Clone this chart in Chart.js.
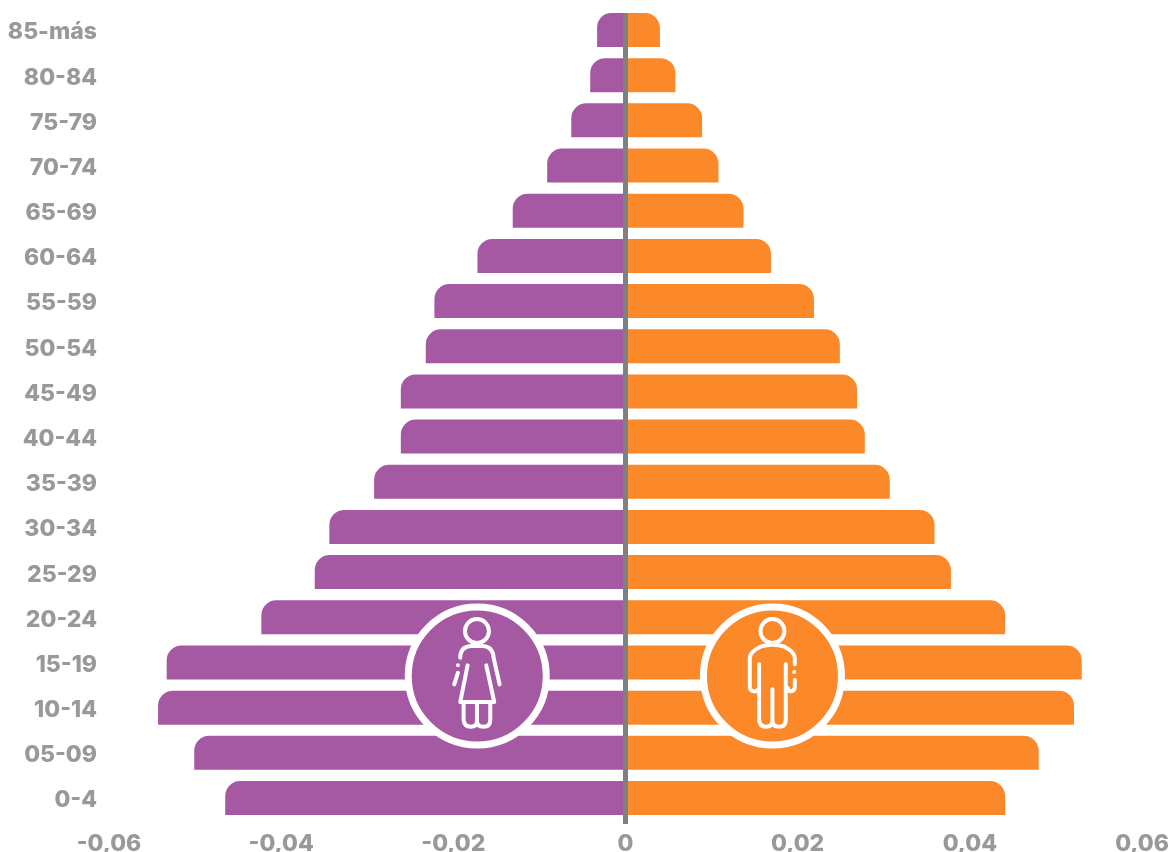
<!DOCTYPE html>
<html>
<head>
<meta charset="utf-8">
<style>
  html, body { margin: 0; padding: 0; background: #fff; }
  canvas { display: block; }
</style>
<script src="https://cdn.jsdelivr.net/npm/chart.js@4"></script>
</head>
<body>
<canvas id="pyramid" width="1171" height="852"></canvas>
<script>
// Population pyramid by age group

const ageGroups = ['85-más', '80-84', '75-79', '70-74', '65-69', '60-64', '55-59', '50-54', '45-49',
  '40-44', '35-39', '30-34', '25-29', '20-24', '15-19', '10-14', '05-09', '0-4'];
const women = [-0.0033, -0.0041, -0.0063, -0.0091, -0.0131, -0.0172, -0.0222, -0.0232, -0.0261,
  -0.0261, -0.0292, -0.0344, -0.0361, -0.0423, -0.0533, -0.0543, -0.0501, -0.0465];
const men = [0.0040, 0.0058, 0.0089, 0.0108, 0.0137, 0.0169, 0.0219, 0.0249, 0.0269,
  0.0278, 0.0307, 0.0359, 0.0378, 0.0441, 0.0530, 0.0521, 0.0480, 0.0441];
const xTickLabels = ['-0,06', '-0,04', '-0,02', '0', '0,02', '0,04', '0,06'];

const PURPLE = '#a559a3';
const ORANGE = '#fb8829';
const LABEL_FONT = { family: "Inter, 'Open Sans', sans-serif", size: 23, weight: '800' };

function stroke(ctx, build) {
  ctx.beginPath();
  build();
  ctx.stroke();
}

// Icon coordinates are in 1/3 px, measured from the crop corner of the badge
function drawWoman(ctx) {
  stroke(ctx, () => ctx.arc(290, 125, 36, 0, Math.PI * 2));
  stroke(ctx, () => {
    ctx.moveTo(222, 285);
    ctx.lineTo(233, 250);
    ctx.moveTo(233, 228);
    ctx.lineTo(233, 228);
    ctx.moveTo(240, 205);
    ctx.quadraticCurveTo(240, 172, 272, 170);
    ctx.lineTo(308, 170);
    ctx.quadraticCurveTo(338, 172, 340, 205);
    ctx.lineTo(358, 285);
  });
  stroke(ctx, () => {
    ctx.moveTo(262, 228);
    ctx.lineTo(240, 338);
    ctx.lineTo(342, 338);
    ctx.lineTo(318, 228);
  });
  stroke(ctx, () => {
    ctx.moveTo(250, 342);
    ctx.lineTo(250, 392);
    ctx.quadraticCurveTo(252, 412, 272, 412);
    ctx.quadraticCurveTo(290, 412, 290, 395);
    ctx.lineTo(290, 342);
    ctx.moveTo(290, 395);
    ctx.quadraticCurveTo(290, 412, 310, 412);
    ctx.quadraticCurveTo(330, 412, 330, 392);
    ctx.lineTo(330, 342);
  });
}

function drawMan(ctx) {
  stroke(ctx, () => ctx.arc(276, 125, 36, 0, Math.PI * 2));
  stroke(ctx, () => {
    ctx.moveTo(236, 225);
    ctx.lineTo(236, 392);
    ctx.quadraticCurveTo(238, 412, 256, 412);
    ctx.quadraticCurveTo(276, 412, 276, 395);
    ctx.lineTo(276, 300);
    ctx.moveTo(276, 395);
    ctx.quadraticCurveTo(276, 412, 296, 412);
    ctx.quadraticCurveTo(316, 412, 316, 392);
    ctx.lineTo(316, 225);
  });
  stroke(ctx, () => {
    ctx.moveTo(236, 295);
    ctx.quadraticCurveTo(232, 308, 220, 306);
    ctx.quadraticCurveTo(208, 304, 208, 292);
    ctx.lineTo(208, 205);
    ctx.quadraticCurveTo(208, 188, 240, 172);
    ctx.quadraticCurveTo(276, 160, 312, 172);
    ctx.quadraticCurveTo(343, 188, 343, 205);
    ctx.lineTo(343, 225);
    ctx.moveTo(341, 248);
    ctx.lineTo(341, 248);
    ctx.moveTo(343, 272);
    ctx.lineTo(343, 292);
    ctx.quadraticCurveTo(343, 304, 332, 306);
    ctx.quadraticCurveTo(324, 306, 322, 296);
  });
}

const overlayPlugin = {
  id: 'overlay',
  afterDatasetsDraw(chart) {
    const { ctx, scales } = chart;
    const zeroX = scales.x.getPixelForValue(0);
    const barHalf = chart.data.datasets[0].barThickness / 2;
    // badges sit a little above the gap between 15-19 and 10-14
    const ctrY = scales.y.getPixelForValue(14.3);

    ctx.save();
    // central axis line, runs a bit past the last bar
    ctx.strokeStyle = '#808080';
    ctx.lineWidth = 5;
    ctx.beginPath();
    ctx.moveTo(zeroX, scales.y.getPixelForValue(0) - barHalf);
    ctx.lineTo(zeroX, scales.y.bottom + 3.4);
    ctx.stroke();

    // badges
    [
      { value: -0.01722, color: PURPLE, draw: drawWoman, ox: 291 },
      { value: 0.01707, color: ORANGE, draw: drawMan, ox: 276 }
    ].forEach(b => {
      const cx = scales.x.getPixelForValue(b.value);
      ctx.beginPath();
      ctx.arc(cx, ctrY, 69, 0, Math.PI * 2);
      ctx.fillStyle = b.color;
      ctx.fill();
      ctx.strokeStyle = '#fff';
      ctx.lineWidth = 7;
      ctx.stroke();

      ctx.save();
      ctx.translate(cx - b.ox / 3, ctrY - 260 / 3);
      ctx.scale(1 / 3, 1 / 3);
      ctx.strokeStyle = '#fff';
      ctx.lineWidth = 12;
      ctx.lineCap = 'round';
      ctx.lineJoin = 'round';
      b.draw(ctx);
      ctx.restore();
    });
    ctx.restore();
  }
};

new Chart(document.getElementById('pyramid'), {
  type: 'bar',
  data: {
    labels: ageGroups,
    datasets: [
      {
        label: 'Mujeres',
        data: women,
        backgroundColor: PURPLE,
        barThickness: 34,
        inflateAmount: 0,
        borderRadius: { topLeft: 15 }
      },
      {
        label: 'Hombres',
        data: men,
        backgroundColor: ORANGE,
        barThickness: 34,
        inflateAmount: 0,
        borderRadius: { topRight: 15 }
      }
    ]
  },
  options: {
    indexAxis: 'y',
    responsive: false,
    animation: false,
    devicePixelRatio: 1,
    layout: { padding: { top: 7.4, right: 29, left: 0, bottom: 0 } },
    plugins: {
      legend: { display: false },
      tooltip: { enabled: false }
    },
    scales: {
      x: {
        stacked: true,
        min: -0.06,
        max: 0.06,
        grid: { display: false },
        border: { display: false },
        afterFit: scale => { scale.height = 31.4; },
        ticks: {
          stepSize: 0.02,
          maxRotation: 0,
          padding: 2,
          color: '#999999',
          font: LABEL_FONT,
          callback: (value, i) => xTickLabels[i]
        }
      },
      y: {
        stacked: true,
        grid: { display: false },
        border: { display: false },
        afterFit: scale => {
          scale.width = 109;
          scale.paddingTop = 0;
          scale.paddingBottom = 0;
        },
        ticks: {
          padding: 4,
          labelOffset: 2.5,
          color: '#999999',
          font: LABEL_FONT
        }
      }
    }
  },
  plugins: [overlayPlugin]
});
</script>
</body>
</html>
